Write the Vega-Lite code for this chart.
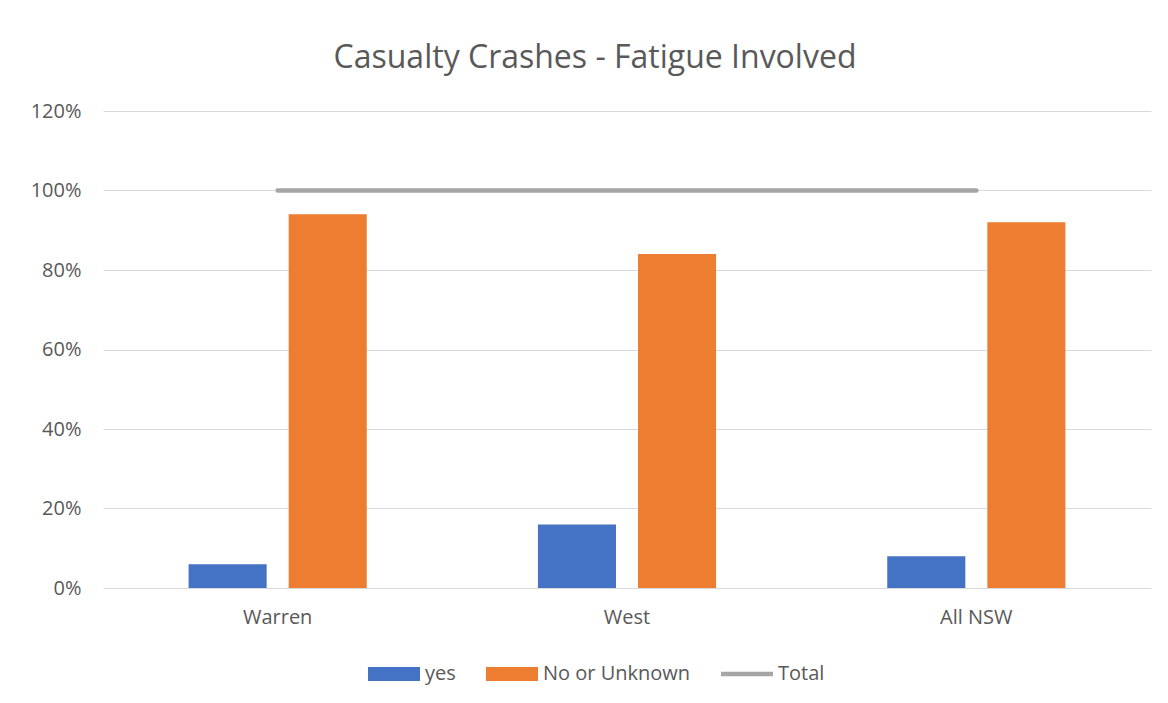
{
  "$schema": "https://vega.github.io/schema/vega-lite/v6.json",
  "autosize": "none",
  "width": 1048,
  "height": 477,
  "padding": {"left": 103, "top": 111, "right": 17, "bottom": 115},
  "background": "white",
  "title": {
    "text": "Casualty Crashes - Fatigue Involved",
    "font": "Open Sans",
    "fontSize": 32,
    "fontWeight": "normal",
    "color": "#595959",
    "anchor": "middle",
    "dx": -32,
    "offset": 26
  },
  "config": {
    "view": {"stroke": null},
    "font": "Open Sans",
    "axis": {
      "labelFont": "Open Sans",
      "labelFontSize": 20,
      "labelColor": "#595959",
      "gridColor": "#D9D9D9",
      "gridWidth": 1.2,
      "domain": false,
      "ticks": false,
      "title": null
    }
  },
  "layer": [
    {
      "data": {
        "values": [
          {"region": "Warren", "series": "yes", "value": 0.06},
          {"region": "Warren", "series": "No or Unknown", "value": 0.94},
          {"region": "West", "series": "yes", "value": 0.16},
          {"region": "West", "series": "No or Unknown", "value": 0.84},
          {"region": "All NSW", "series": "yes", "value": 0.08},
          {"region": "All NSW", "series": "No or Unknown", "value": 0.92}
        ]
      },
      "mark": {"type": "bar"},
      "encoding": {
        "x": {
          "field": "region",
          "type": "nominal",
          "sort": ["Warren", "West", "All NSW"],
          "scale": {"paddingInner": 0.49, "paddingOuter": 0.245},
          "axis": {"labelAngle": 0, "labelPadding": 19, "grid": false}
        },
        "xOffset": {
          "field": "series",
          "type": "nominal",
          "sort": ["yes", "No or Unknown"],
          "scale": {"paddingInner": 0.22, "paddingOuter": 0}
        },
        "y": {
          "field": "value",
          "type": "quantitative",
          "scale": {"domain": [0, 1.2], "nice": false},
          "axis": {"format": ".0%", "values": [0, 0.2, 0.4, 0.6, 0.8, 1.0, 1.2], "labelPadding": 22}
        },
        "color": {
          "field": "series",
          "type": "nominal",
          "scale": {
            "domain": ["yes", "No or Unknown", "Total"],
            "range": ["#4472C4", "#ED7D31", "#A5A5A5"]
          },
          "legend": {
            "title": null,
            "orient": "none",
            "direction": "horizontal",
            "legendX": 265,
            "legendY": 537,
            "symbolType": "M-1,-0.27H1V0.27H-1Z",
            "symbolSize": 2704,
            "symbolStrokeWidth": 0,
            "labelOffset": 5,
            "columnPadding": 30,
            "labelFont": "Open Sans",
            "labelFontSize": 20,
            "labelColor": "#595959",
            "encode": {
              "symbols": {
                "update": {
                  "shape": {"signal": "datum.value === 'Total' ? 'M-1,-0.09H1V0.09H-1Z' : 'M-1,-0.27H1V0.27H-1Z'"},
                  "fill": {"scale": "color", "field": "value"},
                  "strokeWidth": {"value": 0}
                }
              }
            }
          }
        }
      }
    },
    {
      "data": {
        "values": [
          {"region": "Warren", "series": "Total", "value": 1.0},
          {"region": "West", "series": "Total", "value": 1.0},
          {"region": "All NSW", "series": "Total", "value": 1.0}
        ]
      },
      "mark": {"type": "line", "strokeWidth": 4.5, "strokeCap": "round"},
      "encoding": {
        "x": {"field": "region", "type": "nominal", "sort": ["Warren", "West", "All NSW"]},
        "y": {"field": "value", "type": "quantitative"},
        "color": {"field": "series", "type": "nominal"}
      }
    }
  ]
}
